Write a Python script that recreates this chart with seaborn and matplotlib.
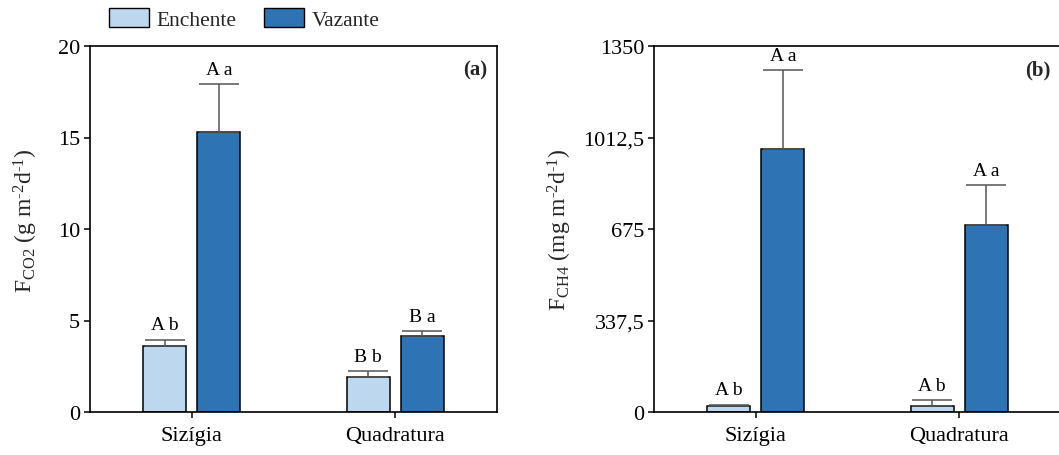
import matplotlib
matplotlib.use("Agg")
import matplotlib.pyplot as plt
import seaborn as sns
import pandas as pd
from matplotlib.patches import Patch

# ---- data ----
categories = ["Sizígia", "Quadratura"]
tides = ["Enchente", "Vazante"]
co2_enchente = [3.6, 1.9]
co2_vazante = [15.3, 4.13]
co2_err_enchente = [0.35, 0.33]
co2_err_vazante = [2.6, 0.28]
co2_labels_enchente = ["A b", "B b"]
co2_labels_vazante = ["A a", "B a"]
ch4_enchente = [21, 21]
ch4_vazante = [969, 691]
ch4_err_enchente = [6, 24]
ch4_err_vazante = [292, 146]
ch4_labels_enchente = ["A b", "A b"]
ch4_labels_vazante = ["A a", "A a"]
co2_ticks = [0, 5, 10, 15, 20]
co2_ticklabels = ["0", "5", "10", "15", "20"]
ch4_ticks = [0, 337.5, 675, 1012.5, 1350]
ch4_ticklabels = ["0", "337,5", "675", "1012,5", "1350"]

sns.set_theme(style="ticks")
plt.rcParams["font.family"] = ["Liberation Serif", "DejaVu Serif"]
plt.rcParams["mathtext.fontset"] = "custom"
plt.rcParams["mathtext.rm"] = "Liberation Serif"
plt.rcParams["mathtext.it"] = "Liberation Serif:italic"

colors = {"Enchente": "#BDD7EE", "Vazante": "#2E74B5"}
errc = "#555555"

fig = plt.figure(figsize=(10.59, 4.56), dpi=100)
ax1 = fig.add_axes([90 / 1059, 43 / 456, 407 / 1059, 366 / 456])
ax2 = fig.add_axes([654 / 1059, 43 / 456, 407 / 1059, 366 / 456])


def panel(ax, ench, vaz, e_ench, e_vaz, l_ench, l_vaz, ticks, ticklabels, ylabel, tag, lx, ly):
    df = pd.DataFrame({
        "cat": categories * 2,
        "tide": [tides[0]] * 2 + [tides[1]] * 2,
        "val": list(ench) + list(vaz),
    })
    sns.barplot(data=df, x="cat", y="val", hue="tide", order=categories,
                hue_order=tides, palette=colors, saturation=1, width=0.532, gap=0.203,
                edgecolor="black", linewidth=1.1, errorbar=None, legend=False, ax=ax)
    errs = list(e_ench) + list(e_vaz)
    labels = list(l_ench) + list(l_vaz)
    vals = list(ench) + list(vaz)
    for p, v, e, lab in zip(ax.patches, vals, errs, labels):
        xc = p.get_x() + p.get_width() / 2
        ax.errorbar([xc], [v], yerr=[[0], [e]], fmt="none", ecolor=errc,
                    elinewidth=1.1, capsize=14.5, capthick=1.1, zorder=1)
        ax.annotate(lab, (xc, v + e), xytext=(0, 4.5), textcoords="offset points",
                    ha="center", va="bottom", fontsize=14, color="black")
    ax.set_xlim(-0.5, 1.5)
    ax.set_ylim(ticks[0], ticks[-1])
    ax.set_yticks(ticks)
    ax.set_yticklabels(ticklabels)
    ax.set_xlabel("")
    ax.set_ylabel(ylabel, fontsize=17)
    ax.yaxis.set_label_coords(lx, ly)
    for s in ax.spines.values():
        s.set_visible(True)
        s.set_linewidth(1.2)
        s.set_color("black")
    ax.tick_params(axis="both", direction="out", length=4, width=1.1,
                   labelsize=16, colors="black", pad=3)
    ax.tick_params(axis="x", pad=6)
    ax.text(0.975, 0.937, tag, transform=ax.transAxes, ha="right", va="center",
            fontsize=15, fontweight="bold")
    ax.set_facecolor("white")


panel(ax1, co2_enchente, co2_vazante, co2_err_enchente, co2_err_vazante,
      co2_labels_enchente, co2_labels_vazante, co2_ticks, co2_ticklabels,
      r"$\mathregular{F_{CO2}\ (g\ m^{‐2}d^{‐1})}$", "(a)", -0.123, 0.525)
panel(ax2, ch4_enchente, ch4_vazante, ch4_err_enchente, ch4_err_vazante,
      ch4_labels_enchente, ch4_labels_vazante, ch4_ticks, ch4_ticklabels,
      r"$\mathregular{F_{CH4}\ (mg\ m^{‐2}d^{‐1})}$", "(b)", -0.196, 0.5)

handles = [Patch(facecolor=colors[t], edgecolor="black", linewidth=1.0, label=t) for t in tides]
fig.legend(handles=handles, loc="upper left", bbox_to_anchor=(96 / 1059, 1.008),
           ncol=2, frameon=False, fontsize=15.5, handlelength=1.85, handleheight=0.95,
           handletextpad=0.35, columnspacing=1.3, borderaxespad=0.2)

fig.savefig("out.png", dpi=100, facecolor="white")
